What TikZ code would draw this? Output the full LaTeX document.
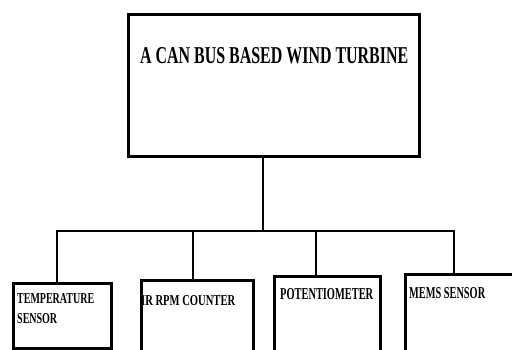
\documentclass[tikz,border=0pt]{standalone}
\usepackage{fontspec}
\setmainfont{Liberation Serif}
\usepackage{graphicx}
\begin{document}
\begin{tikzpicture}[x=1pt,y=-1pt,
  boxstyle/.style={draw=black,line width=2.6pt,rectangle,inner sep=0pt,anchor=north west},
  wire/.style={draw=black,line width=2.2pt},
  lbl/.style={inner sep=0pt,anchor=base west,align=left,text=black}]
\useasboundingbox (0,0) rectangle (512,349);
\clip (0,0) rectangle (512,349);
% main box
\node[boxstyle,minimum width=291pt,minimum height=142pt] (top) at (127,13) {};
\node[lbl] (title) at (140,63) {\resizebox{268pt}{16pt}{\bfseries A CAN BUS BASED WIND TURBINE}};
% child boxes
\node[boxstyle,minimum width=98pt,minimum height=65pt] (b1) at (12,282) {};
\node[boxstyle,minimum width=112pt,minimum height=85pt] (b2) at (140,279) {};
\node[boxstyle,minimum width=106pt,minimum height=90pt] (b3) at (273,275) {};
\node[boxstyle,minimum width=130pt,minimum height=90pt] (b4) at (404,273) {};
% labels
\node[lbl] (t1) at (17,303) {\resizebox{77pt}{10pt}{\bfseries TEMPERATURE}};
\node[lbl] (t1b) at (17,323) {\resizebox{40pt}{10pt}{\bfseries SENSOR}};
\node[lbl] (t2) at (141,305) {\resizebox{94pt}{10pt}{\bfseries IR RPM COUNTER}};
\node[lbl] (t3) at (280,299) {\resizebox{93pt}{11pt}{\bfseries POTENTIOMETER}};
\node[lbl] (t4) at (409,298) {\resizebox{76pt}{11pt}{\bfseries MEMS SENSOR}};
% connectors
\coordinate (j) at (263,231);
\coordinate (c1) at (57,231);
\coordinate (c2) at (193,231);
\coordinate (c3) at (316,231);
\coordinate (c4) at (454,231);
\draw[wire] (top.south -| j) -- (j);
\draw[wire,line cap=rect] (c1) -- (c4);
\draw[wire] (c1) -- (c1 |- b1.north);
\draw[wire] (c2) -- (c2 |- b2.north);
\draw[wire] (c3) -- (c3 |- b3.north);
\draw[wire] (c4) -- (c4 |- b4.north);
\end{tikzpicture}
\end{document}
